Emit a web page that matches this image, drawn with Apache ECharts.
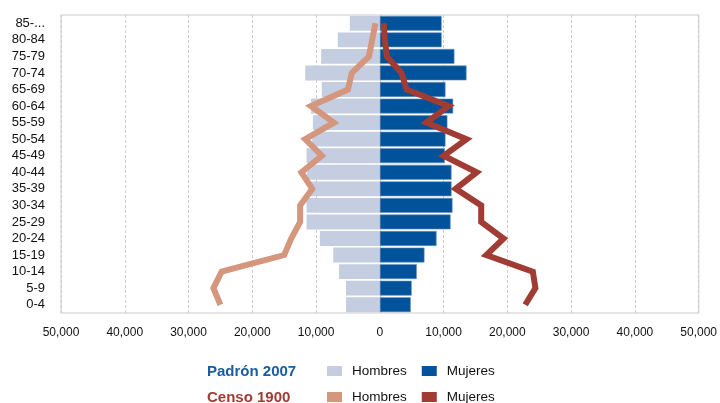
<!DOCTYPE html>
<html>
<head>
<meta charset="utf-8">
<script src="https://cdn.jsdelivr.net/npm/echarts@6/dist/echarts.min.js"></script>
<style>
html,body{margin:0;padding:0;background:#fff;}
#chart{width:720px;height:403px;}
</style>
</head>
<body>
<div id="chart"></div>
<script>
// Age groups, top to bottom as shown (listed bottom to top for the category axis)
var categories = ['0-4','5-9','10-14','15-19','20-24','25-29','30-34','35-39','40-44','45-49','50-54','55-59','60-64','65-69','70-74','75-79','80-84','85-...'];
// Padrón 2007
var hombres2007 = [5300,5300,6400,7300,9400,11500,11500,11100,11400,11500,10600,10500,10800,9100,11700,9200,6600,4700];
var mujeres2007 = [4850,5000,5800,7000,8900,11100,11400,11250,11250,10200,10300,10600,11500,10300,13600,11700,9700,9700];
// Censo 1900
var hombres1900 = [25000,26100,24800,15000,13900,12500,12500,10600,12300,9100,11700,7200,10800,5000,4400,1700,1200,700];
var mujeres1900 = [22800,24400,24000,16700,19400,15900,15900,11900,15200,10000,13600,7300,10800,4200,3400,1100,800,600];
// X-axis ticks
var xTicks = [-50000,-40000,-30000,-20000,-10000,0,10000,20000,30000,40000,50000];

var C_H07 = '#c5cde0', C_M07 = '#00529b', C_H00 = '#d4967d', C_M00 = '#a03c33';

function neg(a){ return a.map(function(v){ return -v; }); }
function fmt(v){ v = Math.abs(v); return v.toString().replace(/\B(?=(\d{3})+(?!\d))/g, ','); }

var chart = echarts.init(document.getElementById('chart'), null, {renderer:'canvas'});
var font = 'Liberation Sans, Arial, sans-serif';
var legendText = {fontFamily:font, fontSize:13.5, color:'#111', padding:[0,0,0,5]};
chart.setOption({
  animation:false,
  textStyle:{fontFamily:font},
  grid:{left:61, right:20, top:15, bottom:90, show:true, borderColor:'#dddddd', borderWidth:1.5, backgroundColor:'transparent'},
  title:[
    {text:'Padrón 2007', left:202, top:359, textStyle:{fontFamily:font, fontSize:15, fontWeight:'bold', color:'#1c5da0'}},
    {text:'Censo 1900', left:202, top:385, textStyle:{fontFamily:font, fontSize:15, fontWeight:'bold', color:'#a03c33'}}
  ],
  legend:[
    {left:327, top:364, padding:0, itemWidth:15, itemHeight:10, itemGap:15, textStyle:legendText,
     itemStyle:{borderWidth:0},
     data:[{name:'Hombres (Padrón 2007)', icon:'rect'},{name:'Mujeres (Padrón 2007)', icon:'rect'}],
     formatter:function(n){ return n.split(' (')[0]; }},
    {left:327, top:390, padding:0, itemWidth:15, itemHeight:10, itemGap:15, textStyle:legendText,
     itemStyle:{borderWidth:0},
     data:[{name:'Hombres (Censo 1900)', icon:'rect'},{name:'Mujeres (Censo 1900)', icon:'rect'}],
     formatter:function(n){ return n.split(' (')[0]; }}
  ],
  xAxis:{
    type:'value', min:-50000, max:50000, interval:10000,
    axisLine:{show:false}, axisTick:{show:false},
    axisLabel:{formatter:fmt, fontSize:12, color:'#111', margin:14, fontFamily:font},
    splitLine:{show:true, lineStyle:{color:'#cccccc', type:[3,2], width:1}}
  },
  yAxis:{
    type:'category', data:categories,
    axisLine:{show:false}, axisTick:{show:false},
    axisLabel:{interval:0, fontSize:13, color:'#111', margin:16, fontFamily:font},
    splitLine:{show:false}
  },
  series:[
    {name:'Hombres (Padrón 2007)', type:'bar', data:neg(hombres2007), barCategoryGap:'10%', barGap:'-100%',
     itemStyle:{color:C_H07}},
    {name:'Mujeres (Padrón 2007)', type:'bar', data:mujeres2007, barCategoryGap:'10%', barGap:'-100%',
     itemStyle:{color:C_M07, borderColor:'#6f95c2', borderWidth:0.6}},
    {name:'Hombres (Censo 1900)', type:'line', data:neg(hombres1900), symbol:'none', z:5,
     lineStyle:{color:C_H00, width:6, join:'miter'}, itemStyle:{color:C_H00}},
    {name:'Mujeres (Censo 1900)', type:'line', data:mujeres1900, symbol:'none', z:5,
     lineStyle:{color:C_M00, width:6, join:'miter'}, itemStyle:{color:C_M00}}
  ]
});
</script>
</body>
</html>
